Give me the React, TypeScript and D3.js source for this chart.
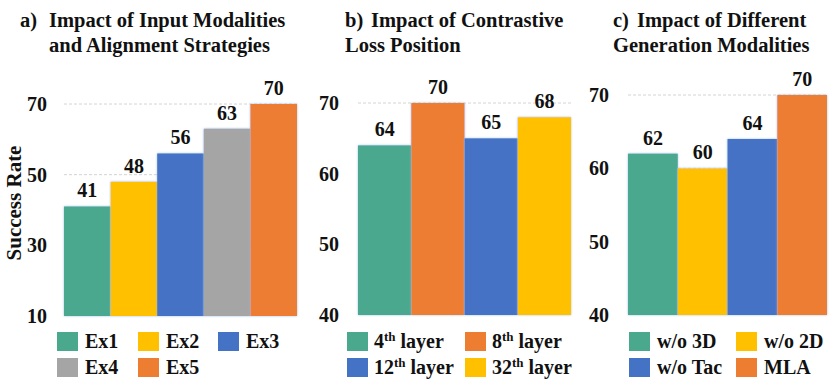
import * as d3 from "d3";
import React from "react";

// panel a
const aNames = ["Ex1", "Ex2", "Ex3", "Ex4", "Ex5"];
const aValues = [41, 48, 56, 63, 70];
const aTicks = [10, 30, 50, 70];
// panel b
const bNames = ["4th layer", "8th layer", "12th layer", "32th layer"];
const bValues = [64, 70, 65, 68];
const bTicks = [40, 50, 60, 70];
// panel c
const cNames = ["w/o 3D", "w/o 2D", "w/o Tac", "MLA"];
const cValues = [62, 60, 64, 70];
const cTicks = [40, 50, 60, 70];

const GREEN = "#4aa88d";
const YELLOW = "#ffc000";
const BLUE = "#4472c4";
const GRAY = "#a5a5a5";
const ORANGE = "#ed7d31";

const FONT = "'Liberation Serif', 'Times New Roman', serif";
const FS = 20;

interface PanelProps {
  tag: string;
  title: [string, string];
  names: string[];
  values: number[];
  ticks: number[];
  colors: string[];
  x0: number;
  x1: number;
  yTop: number;
  yBottom: number;
  tickRight: number;
  titleX: number;
  bodyX: number;
  line2X: number;
  legendCols: number[];
  legendOrder: [number, number][]; // [col,row] per item
  textOffset: number;
}

const LegendText: React.FC<{ x: number; y: number; label: string }> = ({ x, y, label }) => {
  const m = label.match(/^(\d+)(th)(.*)$/);
  if (!m) {
    return (
      <text x={x} y={y} fontSize={FS} fontWeight="bold">
        {label}
      </text>
    );
  }
  return (
    <text x={x} y={y} fontSize={FS} fontWeight="bold">
      {m[1]}
      <tspan fontSize={13} dy={-7}>
        {m[2]}
      </tspan>
      <tspan dy={7}>{m[3]}</tspan>
    </text>
  );
};

const Panel: React.FC<PanelProps> = (p) => {
  const x = d3
    .scaleBand<string>()
    .domain(p.names)
    .range([p.x0, p.x1])
    .padding(0);
  const y = d3
    .scaleLinear()
    .domain([p.ticks[0], p.ticks[p.ticks.length - 1]])
    .range([p.yBottom, p.yTop]);

  return (
    <g fontFamily={FONT} fill="#111">
      {/* title */}
      <text x={p.titleX} y={27} fontSize={20.5} fontWeight="bold">
        {p.tag}
      </text>
      <text x={p.bodyX} y={27} fontSize={20.5} fontWeight="bold">
        {p.title[0]}
      </text>
      <text x={p.line2X} y={52} fontSize={20.5} fontWeight="bold">
        {p.title[1]}
      </text>

      {/* gridlines */}
      {p.ticks.slice(1).map((t) => (
        <line
          key={"g" + t}
          x1={p.x0}
          x2={p.x1}
          y1={y(t)}
          y2={y(t)}
          stroke="#d4d4d4"
          strokeDasharray="3,2"
        />
      ))}

      {/* y ticks */}
      {p.ticks.map((t) => (
        <text
          key={"t" + t}
          x={p.tickRight}
          y={y(t)}
          dy="0.35em"
          textAnchor="end"
          fontSize={FS}
          fontWeight="bold"
        >
          {t}
        </text>
      ))}

      {/* bars */}
      {p.names.map((n, i) => (
        <rect
          key={n}
          x={x(n)!}
          y={y(p.values[i])}
          width={x.bandwidth()}
          height={p.yBottom - y(p.values[i])}
          fill={p.colors[i]}
          filter="url(#glow)"
        />
      ))}

      {/* value labels */}
      {p.names.map((n, i) => (
        <text
          key={"v" + n}
          x={x(n)! + x.bandwidth() / 2}
          y={y(p.values[i]) - 9}
          textAnchor="middle"
          fontSize={FS}
          fontWeight="bold"
        >
          {p.values[i]}
        </text>
      ))}

      {/* legend */}
      {p.names.map((n, i) => {
        const [c, r] = p.legendOrder[i];
        const lx = p.legendCols[c];
        const ly = 332 + r * 26;
        return (
          <g key={"l" + n}>
            <rect x={lx} y={ly} width={21} height={19} fill={p.colors[i]} />
            <LegendText x={lx + p.textOffset} y={ly + 16} label={n} />
          </g>
        );
      })}
    </g>
  );
};

const App: React.FC = () => {
  return (
    <svg
      width={835}
      height={385}
      style={{ position: "absolute", left: 0, top: 0, background: "#fff" }}
    >
      <defs>
        <filter id="glow" x="-10%" y="-10%" width="120%" height="120%">
          <feDropShadow dx={0} dy={0} stdDeviation={1.3} floodColor="#8fb8ea" floodOpacity={0.9} />
        </filter>
      </defs>
      <text
        transform="translate(21,203) rotate(-90)"
        textAnchor="middle"
        fontFamily={FONT}
        fontSize={21}
        fontWeight="bold"
        fill="#111"
      >
        Success Rate
      </text>
      <Panel
        tag="a)"
        title={["Impact of Input Modalities", "and Alignment Strategies"]}
        names={aNames}
        values={aValues}
        ticks={aTicks}
        colors={[GREEN, YELLOW, BLUE, GRAY, ORANGE]}
        x0={64}
        x1={297}
        yTop={104}
        yBottom={316}
        tickRight={47}
        titleX={20}
        bodyX={49}
        line2X={49}
        legendCols={[57, 138, 218]}
        legendOrder={[
          [0, 0],
          [1, 0],
          [2, 0],
          [0, 1],
          [1, 1],
        ]}
        textOffset={28}
      />
      <Panel
        tag="b)"
        title={["Impact of Contrastive", "Loss Position"]}
        names={bNames}
        values={bValues}
        ticks={bTicks}
        colors={[GREEN, ORANGE, BLUE, YELLOW]}
        x0={358}
        x1={571}
        yTop={103}
        yBottom={315}
        tickRight={339}
        titleX={345}
        bodyX={371}
        line2X={345}
        legendCols={[347, 465]}
        legendOrder={[
          [0, 0],
          [1, 0],
          [0, 1],
          [1, 1],
        ]}
        textOffset={27}
      />
      <Panel
        tag="c)"
        title={["Impact of Different", "Generation Modalities"]}
        names={cNames}
        values={cValues}
        ticks={cTicks}
        colors={[GREEN, YELLOW, BLUE, ORANGE]}
        x0={628}
        x1={827}
        yTop={95}
        yBottom={315}
        tickRight={609}
        titleX={613}
        bodyX={637}
        line2X={613}
        legendCols={[629, 736]}
        legendOrder={[
          [0, 0],
          [1, 0],
          [0, 1],
          [1, 1],
        ]}
        textOffset={28}
      />
    </svg>
  );
};

export default App;
